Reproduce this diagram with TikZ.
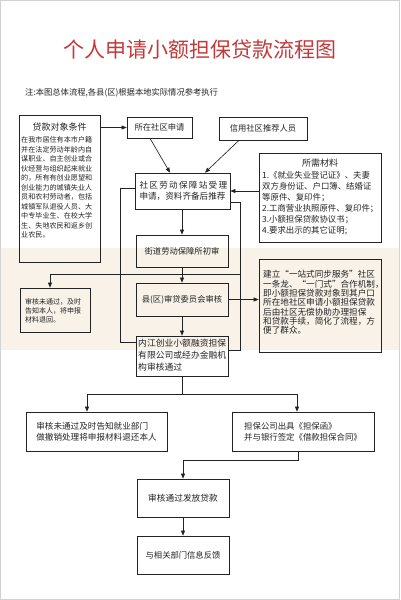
\documentclass[tikz,border=0pt]{standalone}
\usepackage{fontspec}
\setmainfont{Noto Sans CJK SC}
\usetikzlibrary{arrows.meta,calc}
\definecolor{titlered}{RGB}{196,56,56}
\definecolor{band}{RGB}{248,242,233}
\definecolor{ink}{RGB}{35,35,35}
\newcommand\myfs[2]{\fontsize{#1}{#2}\selectfont}
\begin{document}
\begin{tikzpicture}[x=1pt,y=-1pt,
  box/.style={draw=ink,line width=0.7pt,inner sep=0pt,text=ink},
  txt/.style={inner sep=0pt,text=ink},
  ln/.style={draw=ink,line width=0.65pt},
  arr/.style={draw=ink,line width=0.65pt,-{Triangle[length=5pt,width=4pt]}}]
\useasboundingbox (0,0) rectangle (400,600);
\fill[band] (0,248) rectangle (400,350);
\draw[gray!35,line width=0.6pt] (0.5,0.5) rectangle (399.5,599.5);

\node[text=titlered,inner sep=0pt,font=\myfs{21}{24}] (title) at (200,50) {个人申请小额担保贷款流程图};
\node[txt,anchor=west,font=\myfs{8.3}{10}] (note) at (25,93) {注:本图总体流程,各县(区)根据本地实际情况参考执行};

% left condition box
\node[box,minimum width=81pt,minimum height=147pt] (cond) at (59.5,188.5) {};
\node[txt,font=\myfs{9}{11}] (condT) at (59.5,127) {贷款对象条件};
\node[txt,anchor=north west,align=left,font=\myfs{7.1}{9.5}] (condB) at (21,136.5) {在我市居住有本市户籍\\并在法定劳动年龄内自\\谋职业、自主创业或合\\伙经营与组织起来就业\\的，所有有创业愿望和\\创业能力的城镇失业人\\员和农村劳动者，包括\\城镇军队退役人员、大\\中专毕业生、在校大学\\生、失地农民和返乡创\\业农民。};

\node[box,minimum width=65pt,minimum height=21pt,font=\myfs{8.3}{10}] (apply) at (159.5,127.5) {所在社区申请};
\node[box,minimum width=88pt,minimum height=23pt,font=\myfs{8.3}{10}] (credit) at (263,128.5) {信用社区推荐人员};
\node[box,minimum width=95pt,minimum height=36pt,align=center,font=\myfs{8.6}{11}] (station) at (182.5,191) {\makebox[86pt][s]{社 区 劳 动 保 障 站 受 理}\\申请，资料齐备后推荐};

% materials box
\node[box,minimum width=122pt,minimum height=89pt] (mat) at (320,197.5) {};
\node[txt,font=\myfs{9}{11}] (matT) at (320,163) {所需材料};
\node[txt,anchor=north west,align=left,font=\myfs{8.4}{11}] (matB) at (262,171) {1.《就业失业登记证》、夫妻\\双方身份证、户口簿、结婚证\\等原件、复印件；\\2.工商营业执照原件、复印件；\\3.小额担保贷款协议书；\\4.要求出示的其它证明;};

% central column
\node[box,minimum width=92pt,minimum height=32pt,font=\myfs{8.3}{10}] (street) at (182,251) {街道劳动保障所初审};
\node[box,minimum width=92pt,minimum height=33pt,font=\myfs{8.3}{10}] (county) at (182,299.5) {县(区)审贷委员会审核};
\node[box,minimum width=92pt,minimum height=40pt] (company) at (182,356) {};
\node[txt,anchor=north west,align=left,font=\myfs{8.8}{12}] (companyT) at (138,339) {内江创业小额融资担保\\有限公司或经办金融机\\构审核通过};

% reject box
\node[box,minimum width=70pt,minimum height=44pt] (reject) at (55,310) {};
\node[txt,anchor=north west,align=left,font=\myfs{7}{9}] (rejectT) at (25,298) {审核未通过，及时\\告知本人，将申报\\材料退回。};

% right note box
\node[box,minimum width=122pt,minimum height=93pt] (rnote) at (320,305.5) {};
\node[txt,anchor=north west,align=left,font=\myfs{8.6}{9.3}] (rnoteT) at (263,270.5) {建立“一站式同步服务”社区\\一条龙、“一门式”合作机制，\\即小额担保贷款对象到其户口\\所在地社区申请小额担保贷款\\后由社区无偿协助办理担保\\和贷款手续，简化了流程，方\\便了群众。};

% bottom boxes
\node[box,minimum width=141pt,minimum height=39pt,align=left,font=\myfs{8.6}{11}] (fail) at (96.5,431.5) {审核未通过及时告知就业部门\\做撤销处理将申报材料退还本人};
\node[box,minimum width=142pt,minimum height=39pt,align=left,font=\myfs{8.4}{11}] (guar) at (303,431.5) {担保公司出具《担保函》\\并与银行签定《借款担保合同》};
\node[box,minimum width=92pt,minimum height=38pt,font=\myfs{8.7}{10}] (loan) at (183,498) {审核通过发放贷款};
\node[box,minimum width=92pt,minimum height=38pt,font=\myfs{8.3}{10}] (feedback) at (183,555) {与相关部门信息反馈};

% connectors
\draw[arr] (apply.west -| cond.east) -- (apply.west);
\draw[arr] ([xshift=-9.5pt]apply.south) -- ([xshift=-12.5pt]station.north);
\draw[arr] ([xshift=-24pt]credit.south) -- ([xshift=22.5pt]station.north);
\draw[arr] (station.east -| mat.west) -- (station.east);
\draw[arr] (station.south -| street.north) -- (street.north);
\draw[ln] ([yshift=3pt]station.west) -- ++(-14,0) |- ([yshift=14pt]company.west);
\draw[ln] ([yshift=-11pt]station.east) -- ++(10,0) |- ([yshift=6pt]company.east);
\draw[arr] (street) -- (county);
\draw[arr] (county) -- (company);
\draw[arr] (county.east) -- (county.east -| rnote.west);
\coordinate (rjs) at (240,274);
\draw[arr] (rjs) -| ([xshift=-5pt]reject.north);
\coordinate (split) at (182,394);
\draw[ln] (company.south) -- (split);
\draw[arr] (split) -| ([xshift=-9.5pt]fail.north);
\draw[arr] (split) -| ([xshift=-6pt]guar.north);
\draw[arr] ([xshift=-5pt]guar.south) -- ++(0,9) -| (loan.north);
\draw[arr] (loan) -- (feedback);
\end{tikzpicture}
\end{document}
